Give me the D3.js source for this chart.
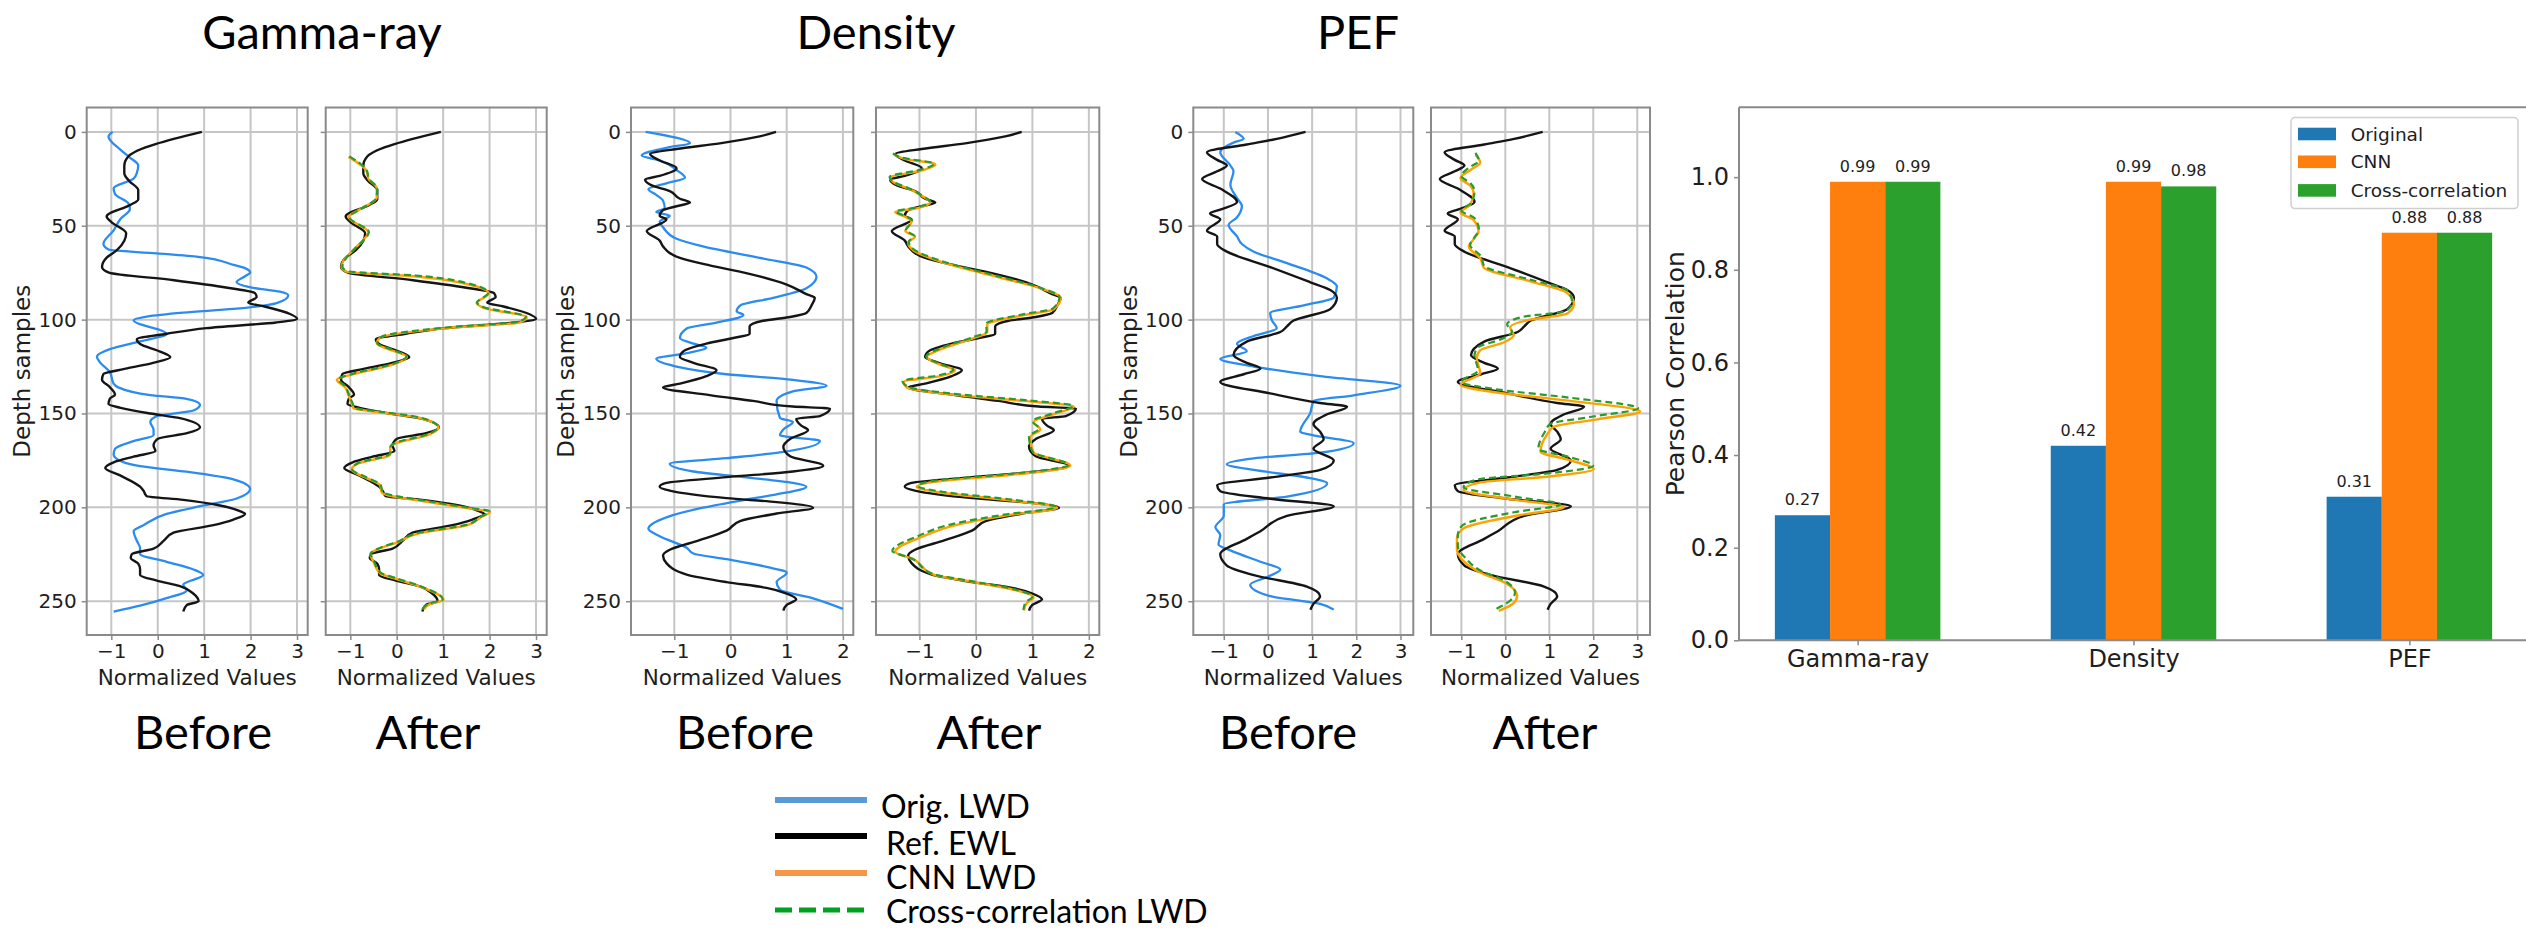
<!DOCTYPE html>
<html>
<head>
<meta charset="utf-8">
<script src="https://cdn.jsdelivr.net/npm/d3@7"></script>
<style>
  html, body { margin: 0; padding: 0; background: #fff; }
  svg { display: block; }
</style>
</head>
<body>
<svg id="fig" width="2526" height="931"></svg>
<script>
// ---------------- Well-log curves: [depth sample, normalized value] ----------------
const gammaRef = [[0,0.95],[13,-0.63],[18,-0.72],[22,-0.72],[26,-0.62],[31,-0.42],[36,-0.42],[39,-0.6],[45,-1.1],[48,-1.0],[54,-0.68],[58,-0.72],[63,-0.88],[67,-1.1],[72,-1.2],[75,-1.05],[79,0.35],[83,1.5],[86,2.1],[88,2.13],[91,1.95],[93,2.3],[97,2.85],[99.5,3.0],[101.5,2.55],[104.5,1.05],[107.5,0.2],[110.5,-0.45],[113,-0.38],[117,0.05],[120,0.27],[123,-0.1],[126,-0.66],[129,-1.17],[132,-1.2],[136,-1.03],[140,-0.92],[142,-1.03],[145,-1.06],[147,-0.8],[150,-0.16],[152.5,0.48],[157.5,0.91],[160.5,0.63],[163.5,0.0],[167,-0.09],[170,-0.05],[173,-0.52],[176,-0.95],[179,-1.13],[183,-0.81],[189,-0.38],[191,-0.31],[194,-0.24],[196,0.55],[199,1.34],[202,1.77],[203.5,1.88],[206.5,1.63],[209.5,1.2],[213.5,0.34],[218,0.12],[222,-0.09],[225,-0.56],[227,-0.58],[230,-0.42],[233,-0.38],[236,-0.38],[239,-0.02],[242,0.48],[246,0.77],[250,0.88],[252,0.63],[255.5,0.55]];
const gammaOrig = [[0,-0.97],[2.4,-1.06],[9.6,-0.8],[13.7,-0.6],[17.8,-0.42],[21.8,-0.45],[24.9,-0.52],[30,-0.95],[33.1,-0.92],[38.2,-0.63],[41.2,-0.6],[46.3,-0.8],[52.4,-0.95],[59.6,-1.17],[62.7,-1.06],[64.7,-0.02],[66.7,0.91],[70.8,1.63],[72.9,1.91],[74.9,1.99],[76.9,1.88],[80,1.7],[83.1,2.06],[85.1,2.63],[87.1,2.81],[91.2,2.56],[94.3,1.63],[96.3,0.55],[98.4,-0.24],[100.4,-0.52],[103.5,-0.24],[105.5,0.05],[107.6,0.19],[111.6,-0.38],[115.7,-1.03],[119.8,-1.31],[122.9,-1.24],[128,-1.03],[134.1,-0.95],[136.1,-0.85],[140.2,-0.16],[142.2,0.62],[145.3,0.91],[148.4,0.77],[151.4,-0.02],[154.5,-0.16],[158.6,-0.09],[161.6,-0.09],[164.7,-0.52],[168.8,-0.92],[171.8,-0.95],[175.9,-0.74],[178,-0.38],[181,0.62],[185.1,1.63],[190.2,1.99],[195.3,1.7],[199.4,0.91],[203.5,0.19],[209.6,-0.31],[212.7,-0.52],[217.8,-0.45],[221.8,-0.38],[224.9,-0.38],[229,0.19],[233.1,0.77],[236.1,0.98],[241.2,0.55],[244.3,0.62],[248.4,0.19],[252.4,-0.38],[255.5,-0.95]];
const gammaCnn = [[13.3,-1.04],[20.8,-0.65],[24.9,-0.61],[30,-0.43],[35.1,-0.43],[41.2,-0.79],[45.3,-1.04],[53.5,-0.61],[57.6,-0.72],[62.7,-0.93],[68.8,-1.15],[71.8,-1.19],[74.5,-1.08],[76.9,0.36],[81,1.51],[86.1,1.98],[91.2,1.72],[93.7,1.87],[98.8,2.8],[101.4,2.66],[104.5,1.08],[109.6,-0.36],[112.7,-0.43],[116.7,-0.07],[119.8,0.22],[123.9,-0.07],[129,-0.93],[132,-1.29],[136.1,-1.11],[140.2,-1.04],[144.3,-0.97],[147.3,-0.93],[149.4,-0.36],[152.4,0.5],[157.6,0.9],[161.6,0.65],[165.7,0.0],[167.8,-0.14],[171.8,-0.14],[176.9,-0.86],[180,-0.97],[184.1,-0.68],[188.2,-0.36],[192.2,-0.32],[197.3,0.72],[200.4,1.51],[202.4,2.01],[205.5,1.8],[209.6,1.51],[213.7,0.5],[218.8,0.0],[221.8,-0.36],[224.9,-0.57],[229,-0.5],[235.1,-0.36],[238.2,0.0],[242.2,0.5],[249.4,1.01],[251.4,0.72],[254.5,0.58]];
const gammaXcorr = [[13,-1.02],[20.8,-0.64],[24.9,-0.6],[30,-0.42],[35.1,-0.44],[41.2,-0.78],[45.3,-1.02],[53.5,-0.6],[57.6,-0.71],[62.7,-0.92],[68.8,-1.13],[71.8,-1.17],[74.2,-1.06],[76.5,0.4],[80.6,1.52],[85.8,1.97],[90.9,1.73],[93.4,1.88],[98.5,2.78],[101.1,2.62],[104.2,1.05],[109.3,-0.34],[112.4,-0.42],[116.4,-0.06],[119.5,0.21],[123.6,-0.08],[128.7,-0.92],[131.7,-1.26],[135.8,-1.1],[140,-1.03],[144,-0.96],[147,-0.9],[149.1,-0.33],[152.1,0.5],[157.3,0.89],[161.3,0.64],[165.4,0.0],[167.5,-0.13],[171.5,-0.15],[176.6,-0.85],[179.7,-0.96],[183.8,-0.67],[187.9,-0.35],[191.9,-0.3],[197,0.74],[200.1,1.52],[202.1,2.0],[205.2,1.8],[209.3,1.5],[213.4,0.5],[218.5,0.0],[221.5,-0.35],[224.6,-0.56],[228.7,-0.49],[234.8,-0.35],[237.9,0.01],[241.9,0.5],[249.1,0.99],[251.1,0.71],[254.4,0.55]];

const densityRef = [[0,0.81],[2.4,0.52],[6.1,-0.19],[9.1,-0.96],[11.8,-1.43],[15.2,-1.26],[19.3,-0.96],[23.4,-1.26],[25.4,-1.52],[28.5,-1.4],[31.5,-1.08],[35.6,-0.9],[37.6,-0.72],[39.6,-0.96],[41.7,-1.2],[44.7,-1.26],[46.7,-1.14],[52.8,-1.49],[57.9,-1.26],[61,-1.2],[67.1,-0.9],[71.1,-0.37],[75.2,0.28],[81.3,1.0],[86.4,1.35],[88.4,1.5],[92.5,1.44],[96.5,1.35],[98.6,1.06],[100.6,0.58],[103.7,0.34],[107.7,0.34],[109.8,0.05],[112.8,-0.43],[116.9,-0.84],[119.9,-0.9],[123,-0.66],[127,-0.25],[130.1,-0.43],[134.1,-0.9],[136.2,-1.2],[140.2,-0.37],[143.3,0.4],[146.3,1.11],[147.4,1.77],[151.4,1.59],[152.8,1.17],[156.5,1.26],[158.9,1.38],[163.6,1.06],[167.7,0.94],[172.8,1.06],[177.8,1.65],[180.9,1.11],[183.9,-0.07],[187,-1.14],[189,-1.26],[191.1,-1.08],[195.1,-0.07],[197.2,0.82],[200.2,1.47],[203.3,0.82],[207.3,0.17],[212.4,-0.07],[217.5,-0.55],[222.6,-1.08],[225.6,-1.2],[229.7,-1.14],[235.8,-0.78],[239.8,-0.07],[242.9,0.64],[245.9,1.0],[249,1.17],[252,1.0],[255,0.94]];
const densityOrig = [[0,-1.51],[6.1,-0.72],[8.1,-1.08],[12.6,-1.58],[15.2,-1.26],[20.3,-0.96],[24.4,-0.81],[27.4,-1.14],[30.5,-1.46],[33.5,-1.32],[36.6,-1.2],[40.7,-1.17],[42.7,-1.32],[44.7,-1.08],[47.8,-1.26],[50.8,-1.2],[56.9,-0.96],[61,-0.49],[67.1,0.52],[72.2,1.35],[77.2,1.53],[83.3,1.35],[88.4,0.76],[92.5,0.17],[95.5,0.11],[97.6,0.23],[101.6,-0.25],[104.7,-0.78],[109.8,-0.9],[112.8,-0.66],[114.8,-0.43],[117.9,-0.78],[120.9,-1.32],[125,-0.96],[129.1,-0.07],[132.1,1.11],[135.2,1.71],[138.2,1.11],[143.3,0.82],[152.4,0.88],[154.5,1.11],[158.5,0.94],[161.6,0.88],[164.6,1.59],[170.7,0.88],[173.8,-0.07],[176.8,-1.08],[180.9,-0.66],[183.9,0.23],[187,1.11],[189,1.35],[193.1,0.82],[196.1,0.23],[200.2,-0.49],[205.3,-1.14],[211.4,-1.46],[215.4,-1.26],[221.5,-0.78],[224.6,-0.66],[227.6,-0.07],[231.7,0.64],[234.8,1.0],[239.8,0.82],[243.9,0.88],[248,1.41],[254.1,2.0]];
const densityCnn = [[11.8,-1.46],[14.2,-1.28],[17.3,-0.72],[20.3,-0.93],[24.4,-1.52],[27.4,-1.43],[30.5,-1.17],[33.5,-0.99],[37.6,-0.81],[40.7,-1.05],[42.7,-1.43],[45.7,-1.22],[47.8,-1.14],[52.8,-1.25],[55.9,-1.08],[58.9,-1.2],[63,-1.11],[69.1,-0.63],[77.2,0.37],[83.3,1.14],[88.4,1.5],[94.5,1.38],[97.6,0.85],[102.6,0.2],[106.7,0.2],[109.8,-0.04],[115.9,-0.63],[119.9,-0.87],[124,-0.63],[127,-0.37],[130.1,-0.63],[133.1,-1.28],[136.2,-1.22],[140.2,-0.34],[143.3,0.85],[146.3,1.73],[150.4,1.38],[154.5,1.02],[158.5,1.14],[162.6,0.96],[170.7,1.02],[177.8,1.67],[182.9,0.55],[186,-0.63],[189,-1.05],[192.1,-0.63],[196.1,0.55],[200.2,1.44],[204.3,0.55],[209.3,-0.34],[215.4,-0.93],[223.6,-1.43],[227.6,-1.11],[235.8,-0.75],[239.8,-0.04],[243.9,0.67],[248,1.02],[251,0.9],[255,0.85]];
const densityXcorr = [[11.4,-1.47],[13.8,-1.3],[16.9,-0.74],[19.9,-0.95],[24,-1.53],[27,-1.44],[30.1,-1.18],[33.1,-1.0],[37.2,-0.82],[40.3,-1.06],[42.3,-1.42],[45.3,-1.21],[47.4,-1.13],[52.4,-1.24],[55.5,-1.09],[58.5,-1.19],[62.6,-1.1],[68.7,-0.62],[76.8,0.38],[82.9,1.13],[88,1.48],[94.1,1.36],[97.2,0.83],[102.2,0.18],[106.3,0.19],[109.4,-0.06],[115.5,-0.65],[119.5,-0.88],[123.6,-0.64],[126.6,-0.4],[129.7,-0.66],[132.7,-1.3],[135.8,-1.2],[139.8,-0.3],[142.9,0.88],[145.9,1.72],[150,1.36],[154.1,1.0],[158.1,1.12],[162.2,0.94],[170.3,1.0],[177.4,1.64],[182.5,0.5],[185.6,-0.68],[188.6,-1.03],[191.7,-0.6],[195.7,0.58],[199.8,1.42],[203.9,0.5],[208.9,-0.42],[215,-1.0],[223.2,-1.48],[227.2,-1.14],[235.4,-0.77],[239.4,-0.06],[243.5,0.66],[247.6,1.0],[250.6,0.88],[254.6,0.84]];

const pefRef = [[0,0.85],[3.7,0.2],[6.7,-0.48],[10.8,-1.38],[14.9,-1.15],[17.9,-0.93],[21,-1.15],[25.1,-1.49],[30.2,-1.08],[37.3,-0.7],[41.4,-1.08],[43.4,-1.31],[46.5,-1.08],[52.6,-1.38],[55.7,-1.15],[59.7,-1.15],[63.8,-0.93],[72,0.05],[80.1,0.96],[84.2,1.41],[88.3,1.56],[94.4,1.41],[100.5,0.58],[103.6,0.43],[106.6,0.28],[111.7,-0.48],[118.9,-0.78],[123,-0.48],[126,-0.17],[129.1,-0.55],[133.2,-1.08],[139.3,0.05],[144.4,1.18],[146.4,1.79],[150.4,1.34],[155.6,1.03],[159.7,1.18],[163.7,1.26],[168.8,1.03],[175,1.49],[180.1,1.18],[184.1,0.05],[188.2,-1.15],[191.3,-1.08],[195.4,0.05],[199.4,1.49],[204.5,0.43],[212.7,-0.17],[216.8,-0.48],[224.9,-1.08],[231,-0.93],[236.1,-0.32],[242.2,0.88],[247.3,1.18],[251.4,1.03],[254.5,0.96]];
const pefOrig = [[0,-0.74],[3.7,-0.55],[5.7,-0.78],[10.8,-1.08],[17.9,-0.85],[21,-0.78],[28.1,-0.85],[35.3,-0.7],[39.4,-0.59],[45.5,-0.7],[49.6,-0.89],[55.7,-0.7],[59.7,-0.59],[63.8,-0.32],[69.9,0.43],[78.1,1.34],[82.2,1.56],[88.3,1.49],[92.4,0.81],[96.5,0.05],[100.5,0.09],[104.6,0.2],[108.7,-0.32],[112.8,-0.7],[116.8,-0.48],[120.9,-1.08],[125,-0.32],[130.1,1.18],[135.2,3.0],[140.3,1.94],[143.4,1.03],[149.5,0.96],[159.7,0.73],[161.7,1.03],[165.8,1.94],[170.9,1.18],[173.9,-0.32],[177,-0.93],[180.1,-0.32],[184.1,0.88],[187.2,1.34],[194.3,0.43],[198.4,-1.0],[204.5,-1.0],[210.6,-1.19],[214.7,-1.08],[219.8,-1.12],[222.9,-0.85],[229,-0.17],[233.1,0.28],[237.1,-0.02],[241.2,-0.4],[247.3,0.05],[251.4,1.18],[254.5,1.49]];
const pefCnn = [[12.2,-0.68],[16.3,-0.57],[20.4,-0.8],[24.5,-1.02],[28.6,-0.8],[32.7,-0.72],[38.8,-0.8],[42.9,-1.02],[46.9,-0.72],[53.1,-0.61],[57.1,-0.72],[61.2,-0.83],[67.3,-0.57],[72.4,-0.49],[79.6,0.57],[85.7,1.4],[91.8,1.56],[96.9,1.4],[100,0.57],[104.1,0.11],[108.2,0.19],[112.2,-0.04],[116.3,-0.57],[120.4,-0.65],[128.6,-0.57],[134.7,-1.02],[138.8,-0.19],[142.9,1.33],[149,3.07],[153.1,2.09],[157.1,1.1],[161.2,0.95],[170.4,0.8],[174.5,1.4],[179.6,2.01],[183.7,0.95],[186.7,-0.57],[190.8,-0.95],[195.9,0.19],[200,1.33],[204.1,0.34],[211.2,-0.95],[216.3,-1.1],[222.4,-1.1],[228.6,-0.95],[234.7,-0.57],[240.8,0.04],[246.9,0.27],[251,0.19],[255.1,-0.15]];
const pefXcorr = [[11.2,-0.68],[15.3,-0.6],[19.4,-0.85],[23.5,-1.0],[27.6,-0.78],[31.7,-0.7],[37.8,-0.78],[41.9,-1.0],[45.9,-0.7],[52.1,-0.6],[56.1,-0.7],[60.2,-0.8],[66.3,-0.55],[71.4,-0.48],[78.6,0.55],[84.7,1.42],[90.8,1.52],[95.5,1.38],[98.5,0.4],[102.5,0.04],[106.5,0.15],[110.5,-0.1],[114.8,-0.62],[119,-0.7],[127,-0.62],[133.2,-1.0],[137.3,-0.15],[141.4,1.4],[147.2,3.02],[151.6,2.0],[155.6,1.02],[159.7,0.9],[168.9,0.75],[173,1.42],[177.8,2.0],[182.2,0.85],[185.2,-0.65],[189.3,-0.95],[194.4,0.25],[198.5,1.25],[202.6,0.2],[209.7,-0.98],[214.8,-1.08],[220.9,-1.08],[227.1,-0.9],[233.2,-0.6],[239.3,0.0],[245.4,0.22],[249.5,0.12],[254,-0.2]];

// ---------------- Tick values ----------------
const depthTicks = [0, 50, 100, 150, 200, 250];
const gammaTicks = [-1, 0, 1, 2, 3];
const densityTicks = [-1, 0, 1, 2];
const pefTicks = [-1, 0, 1, 2, 3];
const corrTicks = [0, 0.2, 0.4, 0.6, 0.8, 1.0];

// ---------------- Pearson correlation summary ----------------
const logNames = ['Gamma-ray', 'Density', 'PEF'];
const corrOriginal = [0.27, 0.42, 0.31];
const corrCnn = [0.99, 0.99, 0.88];
const corrXcorr = [0.99, 0.98, 0.88];
const methodNames = ['Original', 'CNN', 'Cross-correlation'];

// ---------------- Legend for the log tracks ----------------
const trackLegendNames = ['Orig. LWD', 'Ref. EWL', 'CNN LWD', 'Cross-correlation LWD'];

// ======================================================================
const svg = d3.select('#fig');
svg.append('rect').attr('width', 2526).attr('height', 931).attr('fill', '#fff');
const defs = svg.append('defs');

const TICK_FONT = "'DejaVu Sans', sans-serif";
const TITLE_FONT = "Lato, 'Open Sans', sans-serif";
const GRID = '#c6c6c6';
const SPINE = '#8a8a8a';
const TEXT = '#1e1e1e';

const C_ORIG = '#2b8cf0', C_REF = '#151515', C_CNN = '#ffa200', C_XC = '#2a9a2a';

const TOP = 107.5, BOTTOM = 635;
const depthDomain = [-13, 268];
const yDepth = d3.scaleLinear().domain(depthDomain).range([TOP, BOTTOM]);

let clipId = 0;

function logPanel(x0, x1, domain, ticks, series, showDepthLabels, depthTitleX) {
  const x = d3.scaleLinear().domain(domain).range([x0, x1]);
  const g = svg.append('g');

  // grid
  g.selectAll(null).data(ticks).join('line')
    .attr('x1', d => x(d)).attr('x2', d => x(d))
    .attr('y1', TOP).attr('y2', BOTTOM)
    .attr('stroke', GRID).attr('stroke-width', 2);
  g.selectAll(null).data(depthTicks).join('line')
    .attr('x1', x0).attr('x2', x1)
    .attr('y1', d => yDepth(d)).attr('y2', d => yDepth(d))
    .attr('stroke', GRID).attr('stroke-width', 2);

  // curves
  const id = 'clip' + (clipId++);
  defs.append('clipPath').attr('id', id).append('rect')
    .attr('x', x0).attr('y', TOP).attr('width', x1 - x0).attr('height', BOTTOM - TOP);
  const line = d3.line()
    .x(d => x(d[1])).y(d => yDepth(d[0]))
    .curve(d3.curveMonotoneY);
  series.forEach(s => {
    g.append('path')
      .attr('clip-path', `url(#${id})`)
      .attr('d', line(s.data))
      .attr('fill', 'none')
      .attr('stroke', s.color)
      .attr('stroke-width', s.width)
      .attr('stroke-linejoin', 'round')
      .attr('stroke-dasharray', s.dash || null);
  });

  // frame
  g.append('rect')
    .attr('x', x0).attr('y', TOP).attr('width', x1 - x0).attr('height', BOTTOM - TOP)
    .attr('fill', 'none').attr('stroke', SPINE).attr('stroke-width', 2);

  // x axis
  const ax = g.append('g').attr('transform', `translate(0,${BOTTOM})`)
    .call(d3.axisBottom(x).tickValues(ticks).tickSize(5).tickPadding(4).tickFormat(d3.format('d')));
  ax.select('.domain').remove();
  ax.selectAll('.tick line').attr('stroke', SPINE).attr('stroke-width', 1.5);
  ax.selectAll('.tick text').attr('font-family', TICK_FONT).attr('font-size', 20).attr('fill', TEXT);

  // y axis
  const ay = g.append('g').attr('transform', `translate(${x0},0)`)
    .call(d3.axisLeft(yDepth).tickValues(depthTicks).tickSize(5).tickPadding(5)
      .tickFormat(showDepthLabels ? d3.format('d') : () => ''));
  ay.select('.domain').remove();
  ay.selectAll('.tick line').attr('stroke', SPINE).attr('stroke-width', 1.5);
  ay.selectAll('.tick text').attr('font-family', TICK_FONT).attr('font-size', 20).attr('fill', TEXT);

  g.append('text')
    .attr('x', (x0 + x1) / 2).attr('y', 685)
    .attr('text-anchor', 'middle')
    .attr('font-family', TICK_FONT).attr('font-size', 21.5).attr('fill', TEXT)
    .text('Normalized Values');

  if (showDepthLabels) {
    g.append('text')
      .attr('transform', `translate(${depthTitleX},${(TOP + BOTTOM) / 2}) rotate(-90)`)
      .attr('text-anchor', 'middle').attr('dominant-baseline', 'central')
      .attr('font-family', TICK_FONT).attr('font-size', 23).attr('fill', TEXT)
      .text('Depth samples');
  }
}

function track(name, titleX, domain, ticks, ref, orig, cnn, xcorr, before, after, depthTitleX) {
  logPanel(before.x0, before.x1, domain, ticks, [
    { data: orig, color: C_ORIG, width: 2.3 },
    { data: ref, color: C_REF, width: 2.4 }
  ], true, depthTitleX);
  logPanel(after.x0, after.x1, domain, ticks, [
    { data: ref, color: C_REF, width: 2.4 },
    { data: cnn, color: C_CNN, width: 2.4 },
    { data: xcorr, color: C_XC, width: 2.2, dash: '7,4' }
  ], false);

  svg.append('text').attr('x', titleX).attr('y', 49)
    .attr('text-anchor', 'middle').attr('font-family', TITLE_FONT)
    .attr('font-size', 47).attr('fill', '#000').text(name);
  svg.append('text').attr('x', before.label).attr('y', 749)
    .attr('text-anchor', 'middle').attr('font-family', TITLE_FONT)
    .attr('font-size', 47).attr('fill', '#000').text('Before');
  svg.append('text').attr('x', after.label).attr('y', 749)
    .attr('text-anchor', 'middle').attr('font-family', TITLE_FONT)
    .attr('font-size', 47).attr('fill', '#000').text('After');
}

track('Gamma-ray', 322, [-1.53, 3.23], gammaTicks,
  gammaRef, gammaOrig, gammaCnn, gammaXcorr,
  { x0: 86.7, x1: 307.7, label: 203 }, { x0: 325.7, x1: 546.7, label: 428 }, 22);
track('Density', 876, [-1.77, 2.185], densityTicks,
  densityRef, densityOrig, densityCnn, densityXcorr,
  { x0: 631, x1: 853.3, label: 745 }, { x0: 876, x1: 1099.3, label: 989 }, 566);
track('PEF', 1358, [-1.69, 3.29], pefTicks,
  pefRef, pefOrig, pefCnn, pefXcorr,
  { x0: 1193.3, x1: 1413.3, label: 1288 }, { x0: 1431, x1: 1650, label: 1545 }, 1129);

// ---------------- Legend for the log tracks ----------------
const trackLegendStyles = [
  { color: '#5b9bd5', width: 6, dash: null, textX: 881, textY: 818 },
  { color: '#000000', width: 6, dash: null, textX: 886, textY: 855 },
  { color: '#f79646', width: 6, dash: null, textX: 886, textY: 889 },
  { color: '#00a020', width: 5, dash: '17,7', textX: 886, textY: 923 }
];
const legendRowY = [800, 836, 873, 910];
const tl = svg.append('g');
trackLegendNames.forEach((name, i) => {
  const st = trackLegendStyles[i];
  tl.append('line').attr('x1', 775).attr('x2', 867)
    .attr('y1', legendRowY[i]).attr('y2', legendRowY[i])
    .attr('stroke', st.color).attr('stroke-width', st.width)
    .attr('stroke-dasharray', st.dash);
  tl.append('text').attr('x', st.textX).attr('y', st.textY)
    .attr('font-family', TITLE_FONT).attr('font-size', 32).attr('fill', '#000')
    .text(name);
});

// ---------------- Correlation bar chart ----------------
const bx = d3.scaleLinear().domain([-0.43, 2.43]).range([1739, 2528]);
const by = d3.scaleLinear().domain([0, 1.151]).range([640.3, 107.2]);
const barW = bx(0.2) - bx(0);
const methodColors = ['#1f77b4', '#ff7f0e', '#2ca02c'];
const methodValues = [corrOriginal, corrCnn, corrXcorr];
const bc = svg.append('g');

methodValues.forEach((vals, m) => {
  const off = (m - 1) * 0.2;
  bc.selectAll(null).data(vals).join('rect')
    .attr('x', (d, i) => bx(i + off) - barW / 2)
    .attr('y', d => by(d))
    .attr('width', barW)
    .attr('height', d => by(0) - by(d))
    .attr('fill', methodColors[m]);
  bc.selectAll(null).data(vals).join('text')
    .attr('x', (d, i) => bx(i + off))
    .attr('y', d => by(d) - 10)
    .attr('text-anchor', 'middle')
    .attr('font-family', TICK_FONT).attr('font-size', 16).attr('fill', TEXT)
    .text(d => d3.format('.2f')(d));
});

// spines
bc.append('line').attr('x1', 1739).attr('x2', 2528).attr('y1', by(0)).attr('y2', by(0))
  .attr('stroke', SPINE).attr('stroke-width', 2);
bc.append('line').attr('x1', 1739).attr('x2', 2528).attr('y1', 107.2).attr('y2', 107.2)
  .attr('stroke', SPINE).attr('stroke-width', 2);
bc.append('line').attr('x1', 1739).attr('x2', 1739).attr('y1', 107.2).attr('y2', by(0))
  .attr('stroke', SPINE).attr('stroke-width', 2);
bc.append('line').attr('x1', 2528).attr('x2', 2528).attr('y1', 107.2).attr('y2', by(0))
  .attr('stroke', SPINE).attr('stroke-width', 2);

const bAxY = bc.append('g').attr('transform', 'translate(1739,0)')
  .call(d3.axisLeft(by).tickValues(corrTicks).tickSize(5).tickPadding(5).tickFormat(d3.format('.1f')));
bAxY.select('.domain').remove();
bAxY.selectAll('.tick line').attr('stroke', SPINE).attr('stroke-width', 1.5);
bAxY.selectAll('.tick text').attr('font-family', TICK_FONT).attr('font-size', 24).attr('fill', TEXT);

const bAxX = bc.append('g').attr('transform', `translate(0,${by(0)})`)
  .call(d3.axisBottom(bx).tickValues([0, 1, 2]).tickSize(5).tickPadding(5).tickFormat((d) => logNames[d]));
bAxX.select('.domain').remove();
bAxX.selectAll('.tick line').attr('stroke', SPINE).attr('stroke-width', 1.5);
bAxX.selectAll('.tick text').attr('font-family', TICK_FONT).attr('font-size', 24).attr('fill', TEXT);

bc.append('text')
  .attr('transform', `translate(1675,${(107.2 + 640.3) / 2}) rotate(-90)`)
  .attr('text-anchor', 'middle').attr('dominant-baseline', 'central')
  .attr('font-family', TICK_FONT).attr('font-size', 25).attr('fill', TEXT)
  .text('Pearson Correlation');

// legend
const lg = bc.append('g');
lg.append('rect').attr('x', 2291).attr('y', 117.6).attr('width', 227).attr('height', 91)
  .attr('rx', 4).attr('fill', '#fff').attr('fill-opacity', 0.85)
  .attr('stroke', '#cfcfcf').attr('stroke-width', 1.5);
const legRows = [134, 161.8, 190.4];
methodNames.forEach((name, i) => {
  lg.append('rect').attr('x', 2298).attr('y', legRows[i] - 6.3).attr('width', 38).attr('height', 12.6)
    .attr('fill', methodColors[i]);
  lg.append('text').attr('x', 2350.7).attr('y', legRows[i])
    .attr('dominant-baseline', 'central')
    .attr('font-family', TICK_FONT).attr('font-size', 18.5).attr('fill', TEXT)
    .text(name);
});
</script>
</body>
</html>
